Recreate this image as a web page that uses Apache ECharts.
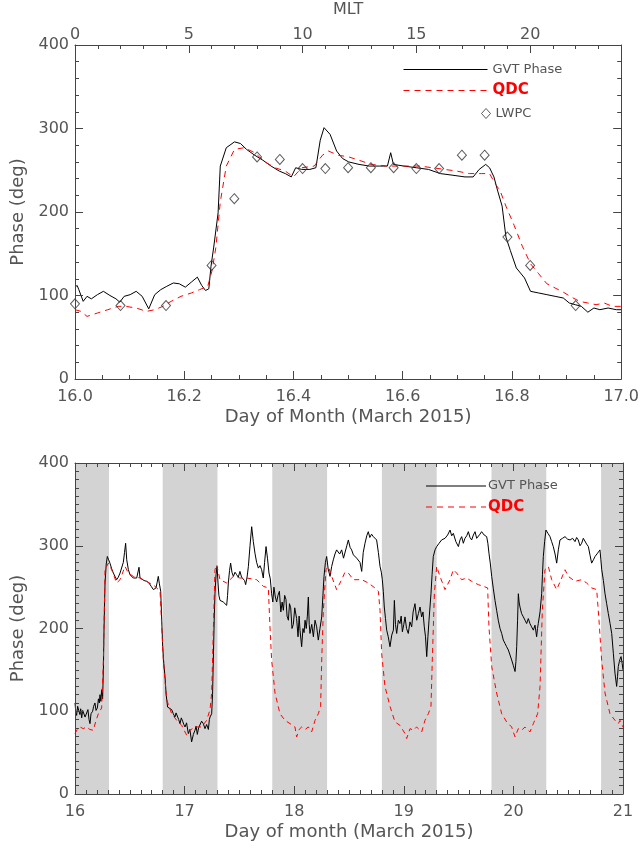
<!DOCTYPE html>
<html lang="en">
<head>
<meta charset="UTF-8">
<title>GVT phase vs QDC, March 2015</title>
<script src="https://cdn.jsdelivr.net/npm/echarts@6/dist/echarts.min.js"></script>
<style>
  html, body { margin: 0; padding: 0; background: #fff; }
  #chart { width: 642px; height: 848px; }
</style>
</head>
<body>
<div id="chart"></div>
<script>
// ---- values: [day of month, phase in deg] ----
const topGvt = [
  [16.000,110],[16.004,112],[16.007,107],[16.015,93],[16.022,99],[16.030,96],[16.041,101],[16.052,105],
  [16.064,100],[16.075,96],[16.082,92],[16.090,99],[16.101,101],[16.112,105],[16.123,99],[16.135,84],
  [16.146,101],[16.157,107],[16.168,111],[16.180,115],[16.191,114],[16.202,110],[16.213,116],[16.224,122],
  [16.232,112],[16.239,106],[16.245,108],[16.249,135],[16.254,158],[16.262,199],[16.266,255],[16.277,277],
  [16.292,284],[16.303,282],[16.314,275],[16.329,268],[16.344,262],[16.359,255],[16.374,249],[16.385,246],
  [16.396,242],[16.404,253],[16.415,251],[16.430,251],[16.441,253],[16.449,286],[16.456,301],[16.467,293],
  [16.479,273],[16.490,264],[16.501,260],[16.520,257],[16.539,255],[16.557,255],[16.572,255],[16.578,271],
  [16.583,257],[16.602,255],[16.625,253],[16.647,251],[16.669,246],[16.692,244],[16.714,242],[16.729,242],
  [16.740,251],[16.752,257],[16.759,253],[16.767,242],[16.774,225],[16.782,207],[16.789,170],[16.797,154],
  [16.808,133],[16.823,121],[16.834,105],[16.849,103],[16.864,101],[16.879,99],[16.894,97],[16.905,91],
  [16.916,89],[16.927,87],[16.939,80],[16.950,85],[16.961,83],[16.976,85],[16.991,83],[17.000,83]
];
const topQdc = [
  [16.000,83],[16.011,81],[16.022,75],[16.041,79],[16.060,83],[16.079,87],[16.093,87],[16.112,85],
  [16.131,81],[16.146,83],[16.161,87],[16.176,93],[16.194,99],[16.213,103],[16.228,107],[16.243,111],
  [16.251,130],[16.258,158],[16.266,212],[16.277,255],[16.292,275],[16.310,277],[16.329,271],[16.348,260],
  [16.366,253],[16.385,249],[16.400,242],[16.415,253],[16.438,255],[16.453,268],[16.464,273],[16.482,268],
  [16.501,266],[16.520,262],[16.542,257],[16.572,255],[16.602,255],[16.632,255],[16.654,253],[16.677,251],
  [16.699,249],[16.722,246],[16.744,246],[16.759,246],[16.770,233],[16.778,226],[16.789,207],[16.804,184],
  [16.819,159],[16.834,138],[16.849,126],[16.864,114],[16.879,109],[16.894,104],[16.909,98],[16.924,93],
  [16.939,91],[16.954,89],[16.969,91],[16.984,87],[17.000,87]
];
const lwpcHour  = [0, 2, 4, 6, 7, 8, 9, 10, 11, 12, 13, 14, 15, 16, 17, 18, 19, 20, 22];
const lwpcPhase = [90, 88, 88, 136, 216, 266, 263, 252, 252, 253, 253, 253, 252, 252, 268, 268, 170, 136, 88];

const bottomGvt = [
  [16.000,110],[16.008,98],[16.015,95],[16.024,106],[16.036,104],[16.045,96],[16.052,103],[16.061,92],
  [16.070,101],[16.082,100],[16.092,93],[16.106,94],[16.118,102],[16.128,90],[16.137,85],[16.146,97],
  [16.161,100],[16.170,106],[16.182,110],[16.192,101],[16.204,104],[16.214,115],[16.222,110],[16.228,120],
  [16.236,112],[16.243,126],[16.252,115],[16.259,150],[16.265,200],[16.274,255],[16.285,278],[16.295,287],
  [16.307,283],[16.319,279],[16.335,272],[16.350,267],[16.365,263],[16.380,259],[16.395,262],[16.411,267],
  [16.425,265],[16.441,280],[16.452,292],[16.462,303],[16.472,283],[16.487,271],[16.502,265],[16.517,263],
  [16.532,261],[16.548,262],[16.563,261],[16.575,260],[16.584,274],[16.593,261],[16.610,260],[16.630,258],
  [16.654,257],[16.675,255],[16.695,251],[16.715,247],[16.727,246],[16.739,249],[16.750,256],[16.760,263],
  [16.770,254],[16.782,245],[16.790,215],[16.800,178],[16.810,158],[16.821,142],[16.832,120],[16.845,105],
  [16.862,104],[16.882,102],[16.897,97],[16.912,93],[16.922,98],[16.934,98],[16.946,90],[16.958,85],
  [16.970,92],[16.982,88],[16.993,84],[17.004,81],[17.018,86],[17.034,73],[17.048,78],[17.064,63],
  [17.080,72],[17.095,77],[17.105,82],[17.116,72],[17.128,80],[17.140,81],[17.155,88],[17.171,85],
  [17.186,79],[17.201,84],[17.217,78],[17.226,90],[17.232,93],[17.247,97],[17.255,120],[17.262,162],
  [17.270,210],[17.277,242],[17.287,265],[17.296,275],[17.305,255],[17.313,240],[17.323,234],[17.338,236],
  [17.353,232],[17.368,230],[17.384,228],[17.392,240],[17.399,255],[17.410,270],[17.420,279],[17.432,268],
  [17.445,263],[17.460,268],[17.475,265],[17.490,262],[17.505,269],[17.520,262],[17.536,263],[17.547,258],
  [17.557,253],[17.570,262],[17.582,275],[17.597,300],[17.612,323],[17.627,305],[17.642,291],[17.657,280],
  [17.673,273],[17.688,276],[17.703,271],[17.718,261],[17.730,280],[17.743,299],[17.756,285],[17.770,267],
  [17.782,260],[17.794,242],[17.805,232],[17.815,250],[17.828,238],[17.840,232],[17.852,240],[17.865,245],
  [17.878,220],[17.890,232],[17.901,222],[17.913,240],[17.925,235],[17.935,215],[17.947,210],[17.957,230],
  [17.968,225],[17.980,200],[17.992,205],[18.005,225],[18.022,212],[18.035,190],[18.045,215],[18.053,198],
  [18.068,178],[18.080,200],[18.090,195],[18.099,210],[18.110,200],[18.120,215],[18.129,238],[18.137,205],
  [18.144,194],[18.160,205],[18.175,190],[18.190,210],[18.205,202],[18.220,186],[18.235,200],[18.251,214],
  [18.262,240],[18.272,263],[18.285,280],[18.296,287],[18.310,272],[18.327,263],[18.342,275],[18.357,283],
  [18.372,290],[18.387,295],[18.400,293],[18.415,290],[18.433,295],[18.450,285],[18.464,283],[18.480,300],
  [18.494,307],[18.510,298],[18.524,295],[18.540,289],[18.555,291],[18.570,285],[18.585,287],[18.600,280],
  [18.616,269],[18.630,292],[18.646,303],[18.662,312],[18.676,317],[18.690,310],[18.706,314],[18.722,311],
  [18.737,313],[18.752,307],[18.768,292],[18.783,275],[18.795,268],[18.804,259],[18.813,245],[18.822,226],
  [18.833,212],[18.844,198],[18.858,190],[18.874,178],[18.890,192],[18.905,198],[18.914,234],[18.924,205],
  [18.935,194],[18.950,210],[18.965,206],[18.976,215],[18.987,196],[19.000,205],[19.011,214],[19.025,200],
  [19.041,194],[19.056,208],[19.072,202],[19.085,220],[19.102,230],[19.118,210],[19.133,218],[19.148,226],
  [19.163,214],[19.175,220],[19.187,202],[19.198,190],[19.209,166],[19.220,190],[19.230,210],[19.248,242],
  [19.258,265],[19.269,287],[19.285,295],[19.300,299],[19.322,303],[19.345,307],[19.360,305],[19.376,309],
  [19.400,313],[19.422,319],[19.437,312],[19.452,315],[19.475,305],[19.498,299],[19.513,307],[19.528,311],
  [19.543,303],[19.558,309],[19.574,312],[19.589,317],[19.604,310],[19.619,307],[19.635,313],[19.650,317],
  [19.665,309],[19.680,311],[19.695,314],[19.710,317],[19.733,313],[19.756,311],[19.767,303],[19.777,291],
  [19.790,278],[19.802,263],[19.817,248],[19.832,234],[19.847,222],[19.862,210],[19.878,200],[19.893,194],
  [19.908,186],[19.923,182],[19.938,178],[19.954,174],[19.969,168],[19.984,162],[20.000,155],[20.015,148],
  [20.023,160],[20.030,178],[20.038,210],[20.045,242],[20.052,232],[20.060,226],[20.075,218],[20.091,214],
  [20.106,210],[20.121,206],[20.136,212],[20.151,206],[20.166,202],[20.182,198],[20.197,204],[20.212,190],
  [20.220,200],[20.227,206],[20.243,220],[20.258,242],[20.265,265],[20.273,287],[20.285,305],[20.297,319],
  [20.315,315],[20.334,311],[20.349,305],[20.364,299],[20.380,290],[20.395,279],[20.410,295],[20.425,307],
  [20.448,309],[20.471,311],[20.494,308],[20.517,307],[20.540,309],[20.562,305],[20.577,310],[20.592,307],
  [20.608,300],[20.623,303],[20.638,309],[20.653,307],[20.668,302],[20.684,299],[20.700,288],[20.714,279],
  [20.730,283],[20.745,287],[20.768,291],[20.790,295],[20.798,283],[20.806,271],[20.821,258],[20.836,242],
  [20.851,230],[20.866,218],[20.882,206],[20.897,194],[20.912,170],[20.927,146],[20.942,130],[20.950,142],
  [20.957,154],[20.970,162],[20.982,166],[20.992,158],[21.000,150]
];
const bottomQdc = [
  [16.000,73],[16.020,78],[16.046,81],[16.075,79],[16.106,81],[16.135,78],[16.167,77],[16.190,88],
  [16.213,97],[16.243,104],[16.259,162],[16.274,271],[16.304,279],[16.335,271],[16.380,255],[16.411,259],
  [16.456,275],[16.487,267],[16.532,263],[16.593,261],[16.654,257],[16.730,251],[16.776,245],[16.806,162],
  [16.836,114],[16.882,97],[16.928,89],[16.973,83],[17.019,71],[17.049,77],[17.095,81],[17.156,81],
  [17.201,89],[17.232,102],[17.247,122],[17.277,271],[17.293,277],[17.323,259],[17.384,255],[17.445,263],
  [17.505,261],[17.566,261],[17.658,259],[17.718,251],[17.764,249],[17.779,202],[17.794,162],[17.825,122],
  [17.870,97],[17.916,89],[17.962,85],[18.007,81],[18.022,69],[18.045,78],[18.068,81],[18.100,78],
  [18.129,81],[18.159,75],[18.190,89],[18.220,97],[18.241,106],[18.251,162],[18.266,222],[18.290,271],
  [18.311,275],[18.342,263],[18.387,247],[18.433,259],[18.463,268],[18.494,267],[18.540,259],[18.616,259],
  [18.676,255],[18.737,249],[18.768,245],[18.783,222],[18.798,170],[18.828,130],[18.874,106],[18.920,87],
  [18.965,83],[19.011,73],[19.026,67],[19.057,79],[19.087,77],[19.117,81],[19.163,75],[19.193,89],
  [19.224,97],[19.248,106],[19.260,162],[19.279,242],[19.300,275],[19.330,263],[19.376,247],[19.422,259],
  [19.452,271],[19.482,267],[19.528,259],[19.574,261],[19.619,257],[19.680,253],[19.726,251],[19.765,249],
  [19.777,202],[19.802,154],[19.847,122],[19.893,97],[19.939,87],[19.984,81],[20.015,69],[20.045,79],
  [20.075,77],[20.106,81],[20.151,75],[20.182,85],[20.221,97],[20.243,130],[20.264,222],[20.288,271],
  [20.319,275],[20.349,259],[20.395,247],[20.434,259],[20.471,271],[20.501,263],[20.562,257],[20.623,259],
  [20.668,255],[20.714,249],[20.760,247],[20.781,210],[20.805,162],[20.836,122],[20.881,97],[20.927,89],
  [20.957,85],[20.973,89],[21.000,81]
];
// shaded (night) intervals of the lower panel
const nightStart = [16.0, 16.8, 17.8, 18.8, 19.8, 20.8];
const nightEnd   = [16.31, 17.3, 18.3, 19.3, 20.3, 21.0];

const FONT = 'DejaVu Sans';
const AXIS_COLOR = '#444';
const TEXT_COLOR = '#555';
const QDC_RED = '#ff0000';

// axis with inward ticks, framed IDL style
function boxAxis(opt) {
  const base = {
    type: 'value',
    z: 10,
    axisLine: { show: true, onZero: false, lineStyle: { color: AXIS_COLOR, width: 1 } },
    axisTick: { show: true, inside: true, length: 8, lineStyle: { color: AXIS_COLOR } },
    minorTick: { show: true, splitNumber: 5, length: 4, lineStyle: { color: AXIS_COLOR } },
    splitLine: { show: false },
    axisLabel: { color: TEXT_COLOR, fontFamily: FONT, fontSize: 16 },
    nameTextStyle: { color: TEXT_COLOR, fontFamily: FONT, fontSize: 18 }
  };
  for (const k in opt) {
    if (typeof opt[k] === 'object' && base[k] && !Array.isArray(opt[k])) {
      base[k] = Object.assign({}, base[k], opt[k]);
    } else {
      base[k] = opt[k];
    }
  }
  return base;
}

// hand drawn key for the lower panel (line sample + label)
function keyRow(x, y, len, lineStyle, label, textStyle) {
  return [
    { type: 'line', z: 20, silent: true,
      shape: { x1: x, y1: y, x2: x + len, y2: y }, style: lineStyle },
    { type: 'text', z: 20, silent: true, x: x + len + 2, y: y,
      style: Object.assign({ text: label, fontFamily: FONT, verticalAlign: 'middle' }, textStyle) }
  ];
}

const chart = echarts.init(document.getElementById('chart'));

chart.setOption({
  animation: false,
  backgroundColor: '#fff',
  grid: [
    { left: 75, right: 19, top: 45, height: 334 },
    { left: 75, right: 19, top: 463, height: 331 }
  ],
  xAxis: [
    boxAxis({ gridIndex: 0, position: 'bottom', min: 16, max: 17, interval: 0.2,
      minorTick: { splitNumber: 4 },
      axisLabel: { margin: 10, formatter: v => v.toFixed(1) },
      name: 'Day of Month (March 2015)', nameLocation: 'middle', nameGap: 29 }),
    boxAxis({ gridIndex: 0, position: 'top', min: 0, max: 24, interval: 5,
      minorTick: { splitNumber: 5 },
      axisLabel: { margin: 2, showMaxLabel: false },
      name: 'MLT', nameLocation: 'middle', nameGap: 27, nameTextStyle: { fontSize: 16 } }),
    boxAxis({ gridIndex: 1, position: 'bottom', min: 16, max: 21, interval: 1,
      minorTick: { splitNumber: 10 },
      axisLabel: { margin: 10 },
      name: 'Day of month (March 2015)', nameLocation: 'middle', nameGap: 29 }),
    boxAxis({ gridIndex: 1, position: 'top', min: 16, max: 21, interval: 1,
      minorTick: { splitNumber: 10 }, axisLabel: { show: false } })
  ],
  yAxis: [
    boxAxis({ gridIndex: 0, position: 'left', min: 0, max: 400, interval: 100,
      minorTick: { splitNumber: 5 }, axisLabel: { margin: 6 },
      name: 'Phase (deg)', nameLocation: 'middle', nameGap: 48 }),
    boxAxis({ gridIndex: 0, position: 'right', min: 0, max: 400, interval: 100,
      minorTick: { splitNumber: 5 }, axisLabel: { show: false } }),
    boxAxis({ gridIndex: 1, position: 'left', min: 0, max: 400, interval: 100,
      minorTick: { splitNumber: 10 }, axisLabel: { margin: 6 },
      name: 'Phase (deg)', nameLocation: 'middle', nameGap: 48 }),
    boxAxis({ gridIndex: 1, position: 'right', min: 0, max: 400, interval: 100,
      minorTick: { splitNumber: 10 }, axisLabel: { show: false } })
  ],
  legend: [
    { left: 403, top: 63, padding: 0, orient: 'vertical',
      itemWidth: 84, itemHeight: 14, itemGap: 7, selectedMode: false,
      itemStyle: { opacity: 0 },
      textStyle: { color: TEXT_COLOR, fontFamily: FONT, fontSize: 13 },
      data: [
        { name: 'GVT Phase', lineStyle: { color: '#000', width: 1, type: 'solid' } },
        { name: 'QDC', lineStyle: { color: QDC_RED, width: 1, type: [6, 5] },
          textStyle: { color: QDC_RED, fontWeight: 'bold', fontSize: 15 } }
      ] },
    { left: 481, top: 107, padding: 0, itemWidth: 9, itemHeight: 10, selectedMode: false,
      itemStyle: { color: 'rgba(255,255,255,0)', borderColor: '#333', borderWidth: 1 },
      textStyle: { color: TEXT_COLOR, fontFamily: FONT, fontSize: 13 },
      data: ['LWPC'] }
  ],
  graphic: [].concat(
    keyRow(426, 486, 60, { stroke: '#000', lineWidth: 1 }, 'GVT Phase',
      { fill: TEXT_COLOR, fontSize: 13 }),
    keyRow(426, 507, 60, { stroke: QDC_RED, lineWidth: 1, lineDash: [6, 5] }, 'QDC',
      { fill: QDC_RED, fontSize: 15, fontWeight: 'bold' })
  ),
  series: [
    { name: 'GVT Phase', type: 'line', xAxisIndex: 0, yAxisIndex: 0, data: topGvt,
      symbol: 'none', z: 3, lineStyle: { color: '#000', width: 1 }, itemStyle: { color: '#000' } },
    { name: 'QDC', type: 'line', xAxisIndex: 0, yAxisIndex: 0, data: topQdc,
      symbol: 'none', z: 4, lineStyle: { color: QDC_RED, width: 1, type: [6, 5] }, itemStyle: { color: QDC_RED } },
    { name: 'LWPC', type: 'scatter', xAxisIndex: 0, yAxisIndex: 0,
      data: lwpcHour.map((h, i) => [16 + h / 24, lwpcPhase[i]]),
      symbol: 'diamond', symbolSize: [9, 10], z: 5,
      itemStyle: { color: 'rgba(255,255,255,0)', borderColor: '#333', borderWidth: 1 } },
    { name: 'night', type: 'line', xAxisIndex: 2, yAxisIndex: 2, data: [], silent: true, z: 1,
      markArea: { silent: true, itemStyle: { color: '#d3d3d3' },
        data: nightStart.map((s, i) => [{ xAxis: s }, { xAxis: nightEnd[i] }]) } },
    { name: 'GVT Phase', type: 'line', xAxisIndex: 2, yAxisIndex: 2, data: bottomGvt,
      symbol: 'none', z: 3, lineStyle: { color: '#000', width: 1 }, itemStyle: { color: '#000' } },
    { name: 'QDC', type: 'line', xAxisIndex: 2, yAxisIndex: 2, data: bottomQdc,
      symbol: 'none', z: 4, lineStyle: { color: QDC_RED, width: 1, type: [5, 4] }, itemStyle: { color: QDC_RED } }
  ]
});

window.onresize = function () { chart.resize(); };
</script>
</body>
</html>
